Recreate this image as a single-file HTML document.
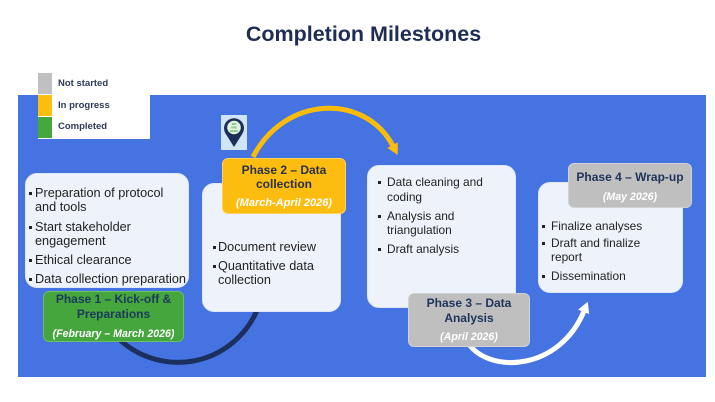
<!DOCTYPE html>
<html><head><meta charset="utf-8">
<style>
html,body{margin:0;padding:0;background:#fff;}
body{width:715px;height:402px;position:relative;overflow:hidden;font-family:"Liberation Sans",Arial,sans-serif;}
.a{position:absolute;}
.panel{left:18px;top:95px;width:688px;height:282px;background:#4673e2;}
.box{position:absolute;background:#eef2fb;border:1px solid #dfe7fa;border-radius:12px;box-sizing:border-box;}
.t{position:absolute;white-space:nowrap;color:#222;font-size:12.7px;line-height:14px;}
.s{font-size:11.9px;}
.b{position:absolute;width:3.4px;height:3.4px;background:#222;}
.lab{position:absolute;border-radius:6px;box-sizing:border-box;}
.lt{position:absolute;left:0;right:0;text-align:center;white-space:nowrap;line-height:14px;font-weight:bold;font-size:12px;color:#1f3358;}
.dt{position:absolute;left:0;right:0;text-align:center;white-space:nowrap;line-height:14px;font-weight:bold;font-style:italic;font-size:10.6px;color:#fff;}
.lg{position:absolute;left:58px;font-size:9.5px;font-weight:bold;color:#2e3a59;line-height:12px;white-space:nowrap;}
</style></head>
<body>
<div class="a" style="left:0;right:0;top:23.8px;text-align:center;font-size:21.5px;line-height:21.5px;font-weight:bold;color:#1e2d54;padding-left:12px;box-sizing:border-box;">Completion Milestones</div>

<div class="a panel"></div>

<svg class="a" style="left:0;top:0" width="715" height="402" viewBox="0 0 715 402">
  <defs>
    <marker id="mo" markerUnits="userSpaceOnUse" markerWidth="14" markerHeight="14" refX="1" refY="6" orient="auto">
      <path d="M0,0 L11,6 L0,12 Z" fill="#fbbc09"/>
    </marker>
    <marker id="mw" markerUnits="userSpaceOnUse" markerWidth="14" markerHeight="14" refX="1" refY="6" orient="auto">
      <path d="M0,0 L11,6 L0,12 Z" fill="#ffffff"/>
    </marker>
  </defs>
  <path d="M115,335 A86,86 0 0 0 259,305" fill="none" stroke="#1c305e" stroke-width="5"/>
  <path d="M253,157 C285,95 365,93 393,146" fill="none" stroke="#fbbc09" stroke-width="5" marker-end="url(#mo)"/>
  <path d="M468,343 C490,375 560,370 584,311" fill="none" stroke="#ffffff" stroke-width="5" marker-end="url(#mw)"/>
  <!-- pin -->
  <rect x="221" y="115" width="26" height="35" fill="#cfe5f5"/>
  <path d="M234,147 L225.5,133.5 A10,10 0 1 1 242.5,133.5 Z" fill="#1c2f57"/>
  <circle cx="234" cy="127.5" r="6.8" fill="#e2f1e0"/>
  <text x="234" y="125" font-size="3" font-family="Liberation Sans, sans-serif" font-weight="bold" fill="#4caf50" text-anchor="middle">WE</text>
  <text x="234" y="128.5" font-size="3" font-family="Liberation Sans, sans-serif" font-weight="bold" fill="#4caf50" text-anchor="middle">ARE</text>
  <text x="234" y="132" font-size="3" font-family="Liberation Sans, sans-serif" font-weight="bold" fill="#4caf50" text-anchor="middle">HERE</text>
</svg>

<!-- Legend -->
<div class="a" style="left:38px;top:72px;width:112px;height:67px;background:#fff;"></div>
<div class="a" style="left:38px;top:73px;width:14px;height:21px;background:#c0c0c3;"></div>
<div class="a" style="left:38px;top:95px;width:14px;height:21px;background:#fcbf0e;"></div>
<div class="a" style="left:38px;top:117px;width:14px;height:21px;background:#45a83d;"></div>
<div class="lg" style="top:78px;">Not started</div>
<div class="lg" style="top:100px;">In progress</div>
<div class="lg" style="top:121px;">Completed</div>

<!-- Phase 1 box -->
<div class="box" style="left:25px;top:173px;width:164px;height:115px;"></div>
<div class="b" style="left:29px;top:192px"></div>
<div class="t" style="left:35px;top:186px">Preparation of protocol</div>
<div class="t" style="left:35px;top:200px">and tools</div>
<div class="b" style="left:29px;top:226px"></div>
<div class="t" style="left:35px;top:220px">Start stakeholder</div>
<div class="t" style="left:35px;top:234px">engagement</div>
<div class="b" style="left:29px;top:259px"></div>
<div class="t" style="left:35px;top:253px">Ethical clearance</div>
<div class="b" style="left:29px;top:278px"></div>
<div class="t" style="left:35px;top:272px">Data collection preparation</div>

<!-- Phase 2 box -->
<div class="box" style="left:202px;top:183px;width:139px;height:129px;"></div>
<div class="b" style="left:213px;top:246px"></div>
<div class="t" style="left:218px;top:240px">Document review</div>
<div class="b" style="left:213px;top:265px"></div>
<div class="t" style="left:218px;top:259px">Quantitative data</div>
<div class="t" style="left:218px;top:273px">collection</div>

<!-- Phase 3 box -->
<div class="box" style="left:367px;top:165px;width:149px;height:143px;"></div>
<div class="b" style="left:378px;top:181px"></div>
<div class="t s" style="left:387px;top:175px">Data cleaning and</div>
<div class="t s" style="left:387px;top:190px">coding</div>
<div class="b" style="left:378px;top:215px"></div>
<div class="t s" style="left:387px;top:209px">Analysis and</div>
<div class="t s" style="left:387px;top:223px">triangulation</div>
<div class="b" style="left:378px;top:248px"></div>
<div class="t s" style="left:387px;top:242px">Draft analysis</div>

<!-- Phase 4 box -->
<div class="box" style="left:538px;top:182px;width:145px;height:111px;"></div>
<div class="b" style="left:542px;top:225px"></div>
<div class="t s" style="left:551px;top:219px">Finalize analyses</div>
<div class="b" style="left:542px;top:242px"></div>
<div class="t s" style="left:551px;top:236px">Draft and finalize</div>
<div class="t s" style="left:551px;top:250px">report</div>
<div class="b" style="left:542px;top:275px"></div>
<div class="t s" style="left:551px;top:269px">Dissemination</div>

<!-- Labels -->
<div class="lab" style="left:43px;top:291px;width:141px;height:51px;background:#44a63c;border:1px solid #6cc064;">
  <div class="lt" style="top:0px;color:#1c3a5a;">Phase 1 – Kick-off &amp;</div>
  <div class="lt" style="top:15px;color:#1c3a5a;">Preparations</div>
  <div class="dt" style="top:35px;">(February – March 2026)</div>
</div>
<div class="lab" style="left:222px;top:158px;width:124px;height:56px;background:#fdbd10;border:1px solid #fed25a;">
  <div class="lt" style="top:4px;color:#2a3048;">Phase 2 – Data</div>
  <div class="lt" style="top:18px;color:#2a3048;">collection</div>
  <div class="dt" style="top:37px;font-size:11px;">(March-April 2026)</div>
</div>
<div class="lab" style="left:408px;top:293px;width:122px;height:54px;background:#bfbfc0;border:1px solid #d2d2d4;">
  <div class="lt" style="top:2px;">Phase 3 – Data</div>
  <div class="lt" style="top:17px;">Analysis</div>
  <div class="dt" style="top:36px;">(April 2026)</div>
</div>
<div class="lab" style="left:568px;top:163px;width:124px;height:45px;background:#bfbfc0;border:1px solid #d2d2d4;">
  <div class="lt" style="top:6px;">Phase 4 – Wrap-up</div>
  <div class="dt" style="top:26px;">(May 2026)</div>
</div>
</body></html>
